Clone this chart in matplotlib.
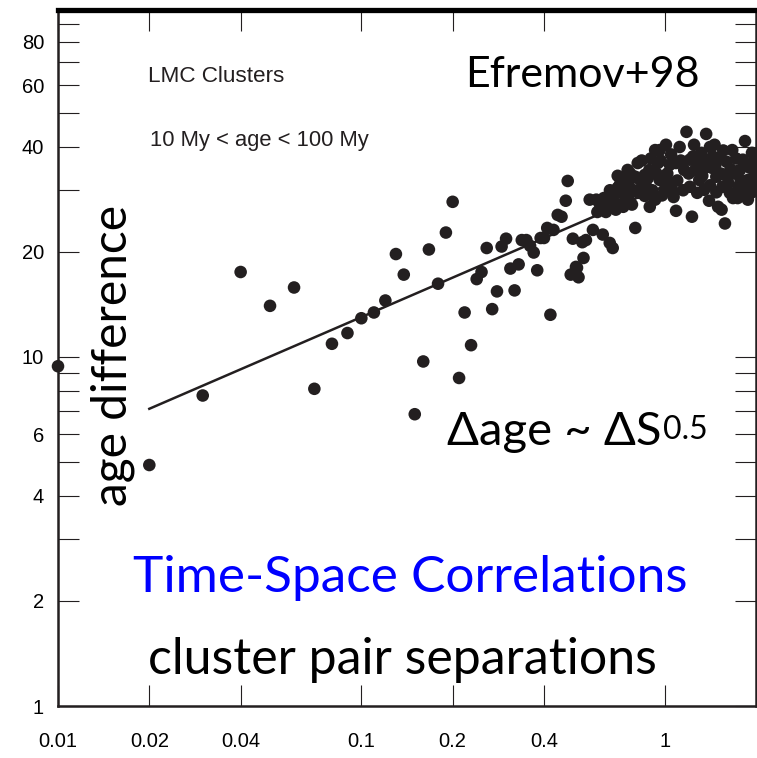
import matplotlib
matplotlib.use('Agg')
import matplotlib.pyplot as plt
from matplotlib.ticker import FixedLocator, NullLocator

# cluster pair separation vs age difference
sep = [0.010, 0.020, 0.030, 0.040, 0.050, 0.060, 0.070, 0.080, 0.090, 0.100,
       0.110, 0.120, 0.130, 0.138, 0.150, 0.160, 0.167, 0.179, 0.190, 0.200,
       0.210, 0.219, 0.230, 0.240, 0.249, 0.259, 0.270, 0.280, 0.290, 0.300,
       0.310, 0.320, 0.330, 0.338, 0.350, 0.360, 0.370, 0.380, 0.390, 0.400,
       0.410, 0.420, 0.430, 0.444, 0.457, 0.472, 0.479, 0.490, 0.498, 0.510,
       0.514, 0.520, 0.535, 0.540, 0.550, 0.566, 0.580, 0.595, 0.600]
age = [9.4, 4.9, 7.75, 17.5, 14.0, 15.8, 8.1, 10.9, 11.7, 12.9,
       13.4, 14.5, 19.7, 17.2, 6.85, 9.7, 20.3, 16.2, 22.7, 27.8,
       8.7, 13.4, 10.8, 16.7, 17.5, 20.5, 13.7, 15.4, 20.7, 21.8,
       17.9, 15.5, 18.4, 21.6, 21.6, 20.8, 19.9, 17.7, 21.9, 21.9,
       23.4, 13.2, 23.1, 25.5, 25.2, 28.0, 31.9, 17.2, 21.8, 18.1,
       18.0, 16.9, 21.3, 19.2, 21.6, 28.2, 23.1, 28.2, 26.0]

# the crowded part at large separations
sep_far = [0.625, 0.650, 0.659, 0.674, 0.670, 0.690, 0.711, 0.720, 0.730, 0.740,
           0.755, 0.760, 0.780, 0.800, 0.800, 0.815, 0.830, 0.860, 0.860, 0.870,
           0.890, 0.893, 0.930, 0.930, 0.950, 0.963, 0.963, 1.000, 1.010, 1.040,
           1.040, 1.070, 1.090, 1.090, 1.120, 1.160, 1.180, 1.210, 1.210, 1.230,
           1.250, 1.260, 1.300, 1.320, 1.350, 1.350, 1.370, 1.410, 1.410, 1.430,
           1.460, 1.480, 1.480, 1.500, 1.520, 1.540, 1.550, 1.580, 1.580, 1.600,
           1.640, 1.670, 1.680, 1.700, 1.750, 1.770, 1.810, 1.810, 1.840, 1.880,
           1.880, 1.910, 1.940, 1.940, 1.990,
           0.610, 0.630, 0.640, 0.660, 0.680, 0.700, 0.700, 0.720, 0.740, 0.760,
           0.770, 0.790, 0.820, 0.840, 0.850, 0.880, 0.900, 0.910, 0.940, 0.970,
           0.980, 1.020, 1.050, 1.060, 1.100, 1.130, 1.150, 1.200, 1.240, 1.280,
           1.300, 1.330, 1.380, 1.400, 1.440, 1.470, 1.530, 1.560, 1.620, 1.650,
           1.720, 1.740, 1.780, 1.850, 1.900, 1.960, 1.980]
age_far = [22.4, 26.7, 21.2, 20.5, 29.0, 26.4, 31.1, 29.5, 26.9, 30.1,
           34.3, 31.5, 27.3, 32.8, 23.4, 35.9, 32.1, 33.2, 28.9, 30.7,
           34.3, 26.9, 39.1, 28.2, 35.9, 39.1, 32.1, 30.1, 40.5, 35.5,
           31.6, 28.7, 26.2, 35.9, 39.9, 34.3, 44.1, 30.7, 36.7, 25.2,
           40.5, 34.3, 32.1, 38.4, 36.7, 30.1, 43.5, 39.9, 31.0, 34.8,
           40.5, 32.8, 29.6, 26.9, 37.3, 26.4, 30.7, 24.1, 33.2, 36.2,
           29.5, 39.1, 28.5, 33.5, 30.7, 34.3, 36.7, 29.1, 41.5, 32.1,
           28.2, 34.8, 38.4, 29.6, 33.3,
           27.5, 28.5, 26.0, 30.0, 27.8, 30.5, 33.0, 32.5, 28.0, 29.0,
           33.5, 30.0, 29.5, 36.5, 31.0, 32.5, 37.0, 30.0, 33.5, 36.5,
           29.0, 33.5, 38.0, 30.0, 32.0, 36.5, 30.0, 33.5, 37.5, 29.5,
           35.5, 33.0, 35.0, 28.0, 37.5, 35.5, 33.5, 39.0, 31.5, 34.5,
           37.0, 28.5, 32.0, 35.5, 30.5, 36.0, 31.0]

fit_sep = [0.02, 1.02]
fit_age = [7.1, 31.1]

xticks = [0.01, 0.02, 0.04, 0.1, 0.2, 0.4, 1]
xlabels = ['0.01', '0.02', '0.04', '0.1', '0.2', '0.4', '1']
yticks = [1, 2, 3, 4, 5, 6, 7, 8, 9, 10, 20, 30, 40, 50, 60, 70, 80, 90]
ylabels = {1: '1', 2: '2', 4: '4', 6: '6', 10: '10', 20: '20', 40: '40',
           60: '60', 80: '80'}

ink = '#231f20'
gill = ['Lato', 'DejaVu Sans']
helv = ['Liberation Sans', 'DejaVu Sans']

fig = plt.figure(figsize=(7.57, 7.58), dpi=100)
ax = fig.add_axes([58/757, 1 - 706/758, 698/757, 696/758])

ax.set_xscale('log')
ax.set_yscale('log')
ax.set_xlim(0.01, 2.0)
ax.set_ylim(1, 98.5)

ax.scatter(sep + sep_far, age + age_far, s=82, color=ink, edgecolors='none',
           zorder=3, clip_on=False)
ax.plot(fit_sep, fit_age, color=ink, lw=1.8, zorder=2)

ax.xaxis.set_major_locator(FixedLocator(xticks))
ax.xaxis.set_minor_locator(NullLocator())
ax.set_xticklabels(xlabels)
ax.yaxis.set_major_locator(FixedLocator(yticks))
ax.yaxis.set_minor_locator(NullLocator())
ax.set_yticklabels([ylabels.get(v, '') for v in yticks])

ax.tick_params(axis='both', which='both', direction='in', length=15, width=0.8,
               color=ink, top=True, right=True)
ax.tick_params(axis='x', pad=19)
ax.tick_params(axis='y', pad=10)
for lab in ax.get_xticklabels() + ax.get_yticklabels():
    lab.set_family(helv)
    lab.set_fontsize(14.5)

for side in ['left', 'right', 'bottom']:
    ax.spines[side].set_linewidth(1.8)
    ax.spines[side].set_color(ink)
ax.spines['top'].set_linewidth(3.8)
ax.spines['top'].set_color('black')

ax.text(0.129, 0.904, 'LMC Clusters', transform=ax.transAxes, family=helv,
        fontsize=16.2, va='center', ha='left', color=ink)
ax.text(0.132, 0.813, '10 My < age < 100 My', transform=ax.transAxes,
        family=helv, fontsize=15.8, va='center', ha='left', color=ink)

ax.text(0.583, 0.907, 'Efremov+98', transform=ax.transAxes, family=gill,
        fontsize=31, va='center', ha='left', color='black')
ax.text(0.079, 0.504, 'age difference', transform=ax.transAxes, family=gill,
        fontsize=34.5, va='center', ha='center', rotation=90, color='black')
law = ax.text(0.557, 0.394, '\u0394age ~ \u0394S', transform=ax.transAxes,
              family=gill, fontsize=34, va='center', ha='left', color='black')
ax.annotate('0.5', xy=(1.0, 1.0), xycoords=law, xytext=(1, -3),
            textcoords='offset points', family=gill, fontsize=23,
            va='top', ha='left', color='black')
ax.text(0.504, 0.184, 'Time-Space Correlations', transform=ax.transAxes,
        family=gill, fontsize=37, va='center', ha='center', color='#0000ff')
ax.text(0.494, 0.066, 'cluster pair separations', transform=ax.transAxes,
        family=gill, fontsize=36, va='center', ha='center', color='black')

fig.savefig('out.png', dpi=100)
